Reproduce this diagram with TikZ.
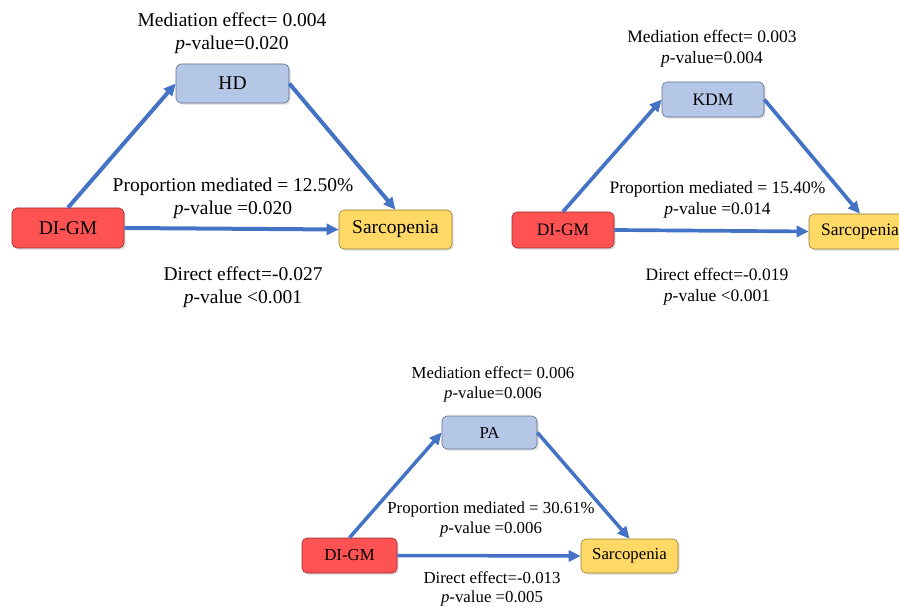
\documentclass[tikz,border=0pt]{standalone}
\usepackage{fontspec}
\setmainfont{Liberation Serif}
\usetikzlibrary{arrows.meta,shadows}

\definecolor{dgmred}{RGB}{255,82,82}
\definecolor{dgmline}{RGB}{150,45,45}
\definecolor{medblue}{RGB}{180,199,231}
\definecolor{medline}{RGB}{95,110,140}
\definecolor{sarcyellow}{RGB}{255,217,102}
\definecolor{sarcline}{RGB}{150,125,50}
\definecolor{arrowblue}{RGB}{68,114,196}

\begin{document}
\begin{tikzpicture}[
			x=1pt, y=-1pt,
			every node/.style={align=center},
			box/.style={draw, rounded corners=5pt, line width=0.6pt, inner sep=0pt, drop shadow={shadow xshift=1.6pt, shadow yshift=-1.6pt, opacity=0.25}},
			dgmBox/.style={box, fill=dgmred, draw=dgmline},
			medBox/.style={box, fill=medblue, draw=medline},
			sarcBox/.style={box, fill=sarcyellow, draw=sarcline},
			effarrow/.style={draw=arrowblue, line width=4pt, -{Triangle[length=12pt, width=11pt]}}
		]
		\useasboundingbox (0,0) rectangle (899,609);
		\clip (0,0) rectangle (899,609);

		% Left panel (HD)
		\begin{scope}[font=\fontsize{19.5}{23}\selectfont]
			\node[dgmBox, minimum width=112pt, minimum height=40pt] (DG1) at (68,228) {DI-GM};
			\node[medBox, minimum width=113pt, minimum height=39pt] (HD) at (232.5,83.5) {HD};
			\node[sarcBox, minimum width=113pt, minimum height=39pt] (SC1) at (395.5,229.5) {Sarcopenia};

			\node (M1) at (232,33.5) {Mediation effect= 0.004\\\textit{p}-value=0.020};
			\node (P1) at (233,198) {Proportion mediated = 12.50\%\\\textit{p}-value =0.020};
			\node (D1) at (243,287.5) {Direct effect=-0.027\\\textit{p}-value <0.001};

			\draw[effarrow] (DG1.north) -- (HD.west);
			\draw[effarrow] (HD.east) -- (SC1.north);
			\draw[effarrow] (DG1.east) -- (SC1.west);
		\end{scope}

		% Right panel (KDM)
		\begin{scope}[shift={(480,0)}, font=\fontsize{17.5}{21}\selectfont]
			\node[dgmBox, minimum width=102pt, minimum height=36pt] (DG2) at (83,230) {DI-GM};
			\node[medBox, minimum width=102pt, minimum height=35pt] (KDM) at (233,99.5) {KDM};
			\node[sarcBox, minimum width=102pt, minimum height=35pt] (SC2) at (380,231.5) {Sarcopenia};

			\node (M2) at (232,48.5) {Mediation effect= 0.003\\\textit{p}-value=0.004};
			\node (P2) at (237.5,199.5) {Proportion mediated = 15.40\%\\\textit{p}-value =0.014};
			\node (D2) at (237,287) {Direct effect=-0.019\\\textit{p}-value <0.001};

			\draw[effarrow, line width=3.7pt] (DG2.north) -- (KDM.west);
			\draw[effarrow, line width=3.7pt] (KDM.east) -- (SC2.north);
			\draw[effarrow, line width=3.7pt] (DG2.east) -- (SC2.west);
		\end{scope}

		% Bottom panel (PA)
		\begin{scope}[shift={(290,350)}, font=\fontsize{16.8}{20.5}\selectfont]
			\node[dgmBox, minimum width=95pt, minimum height=35pt] (DG3) at (59.5,205.5) {DI-GM};
			\node[medBox, minimum width=95pt, minimum height=33pt] (PA) at (199.5,82.5) {PA};
			\node[sarcBox, minimum width=97pt, minimum height=34pt] (SC3) at (339.5,206) {Sarcopenia};

			\node (M3) at (203,34.5) {Mediation effect= 0.006\\\textit{p}-value=0.006};
			\node (P3) at (201,169.5) {Proportion mediated = 30.61\%\\\textit{p}-value =0.006};
			\node[font=\fontsize{16.8}{18.5}\selectfont] (D3) at (202,239) {Direct effect=-0.013\\\textit{p}-value =0.005};

			\draw[effarrow, line width=3.5pt] (DG3.north) -- (PA.west);
			\draw[effarrow, line width=3.5pt] (PA.east) -- (SC3.north);
			\draw[effarrow, line width=3.5pt] (DG3.east) -- (SC3.west);
		\end{scope}
	\end{tikzpicture}
\end{document}
